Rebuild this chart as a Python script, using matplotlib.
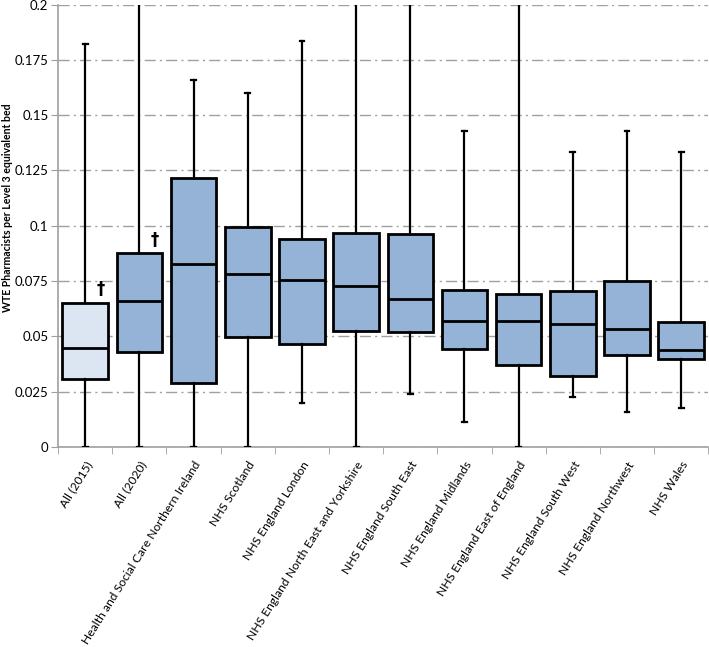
import numpy as np
import matplotlib
matplotlib.use("Agg")
import matplotlib.pyplot as plt

plt.rcParams['font.family'] = ['Lato', 'DejaVu Sans']

# data
regions = ["All (2015)", "All (2020)", "Health and Social Care Northern Ireland",
           "NHS Scotland", "NHS England London", "NHS England North East and Yorkshire",
           "NHS England South East", "NHS England Midlands", "NHS England East of England",
           "NHS England South West", "NHS England Northwest", "NHS Wales"]
whisker_low = [0.0, 0.0, 0.0, 0.0, 0.0200, 0.0, 0.0242, 0.0113, 0.0, 0.0227, 0.0158, 0.0176]
q1 = [0.0309, 0.0428, 0.0289, 0.0497, 0.0465, 0.0526, 0.0521, 0.0444, 0.0373, 0.0319, 0.0414, 0.0396]
median = [0.0447, 0.0660, 0.0827, 0.0782, 0.0753, 0.0729, 0.0667, 0.0572, 0.0571, 0.0557, 0.0535, 0.0438]
q3 = [0.0653, 0.0877, 0.1214, 0.0994, 0.0941, 0.0967, 0.0965, 0.0711, 0.0694, 0.0706, 0.0750, 0.0566]
whisker_high = [0.1821, 0.25, 0.1661, 0.1600, 0.1833, 0.25, 0.25, 0.1429, 0.25, 0.1334, 0.1429, 0.1334]
dagger_boxes = [0, 1]

stats = []
for i in range(len(regions)):
    stats.append(dict(label=regions[i], whislo=whisker_low[i], q1=q1[i], med=median[i],
                      q3=q3[i], whishi=whisker_high[i], fliers=[]))

fig = plt.figure(figsize=(7.09, 6.47), dpi=100)
ax = fig.add_axes([0.082, 0.309, 0.917, 0.684])

pos = np.arange(1, len(regions) + 1)
bp = ax.bxp(stats, positions=pos, widths=0.84, patch_artist=True, showfliers=False,
            boxprops=dict(linewidth=2, edgecolor='black'),
            medianprops=dict(color='black', linewidth=2),
            whiskerprops=dict(color='black', linewidth=1.6),
            capprops=dict(color='black', linewidth=1.6), capwidths=0.09)
for i, box in enumerate(bp['boxes']):
    box.set_facecolor('#dce6f2' if i == 0 else '#95b3d7')
    box.set_zorder(3)
for k in ['whiskers', 'caps', 'medians']:
    for ln in bp[k]:
        ln.set_zorder(3)

for i in dagger_boxes:
    ax.text(pos[i] + 0.28, q3[i] + 0.002, "\u2020", ha='center', va='bottom',
            fontsize=12, fontweight='bold', zorder=4, family=['DejaVu Sans'])

ax.set_ylim(0, 0.2)
ax.set_xlim(0.5, len(regions) + 0.5)
yt = np.arange(0, 0.2001, 0.025)
ax.set_yticks(yt)
ax.set_yticklabels(["0", "0.025", "0.05", "0.075", "0.1", "0.125", "0.15", "0.175", "0.2"], fontsize=9.5)
ax.yaxis.grid(True, color='#a0a0a0', linestyle=(0, (8, 3, 1.5, 3)), linewidth=1, zorder=0)
ax.set_axisbelow(True)

ax.set_xticks(pos)
ax.set_xticklabels(regions, rotation=58, ha='right', rotation_mode='anchor', fontsize=8.7)
ax.tick_params(axis='x', length=0, pad=9)
ax.set_xticks(np.arange(0.5, len(regions) + 1, 1), minor=True)
ax.tick_params(axis='x', which='minor', length=5, color='#a0a0a0', direction='out')
ax.tick_params(axis='y', length=5, color='#a0a0a0', direction='out', pad=2)

for s in ['top', 'right']:
    ax.spines[s].set_visible(False)
for s in ['left', 'bottom']:
    ax.spines[s].set_color('#a0a0a0')
    ax.spines[s].set_linewidth(1.2)

ax.set_ylabel("WTE Pharmacists per Level 3 equivalent bed", fontsize=7.6, fontweight='bold')
ax.yaxis.set_label_coords(-0.07, 0.54)

fig.savefig("out.png", dpi=100)
